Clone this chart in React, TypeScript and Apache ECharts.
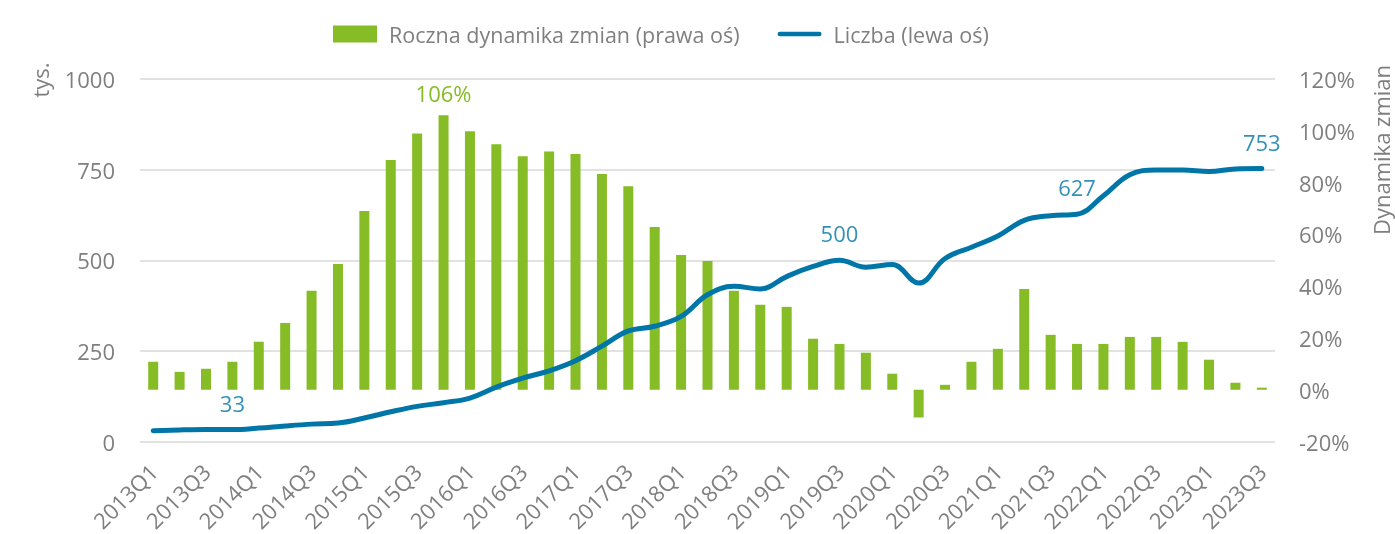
import React, { useEffect, useRef } from "react";
import * as echarts from "echarts";

const categories: string[] = [];
for (let y = 2013; y <= 2023; y++) {
  for (let q = 1; q <= 4; q++) {
    if (y === 2023 && q > 3) break;
    categories.push(`${y}Q${q}`);
  }
}

const growthPct = [
  10.8, 6.9, 8.1, 10.8, 18.5, 25.8, 38.2, 48.6, 69, 88.7, 99, 106, 99.8, 94.8, 90.2, 92,
  91, 83.3, 78.6, 62.8, 52, 49.7, 38.2, 32.8, 32, 19.7, 17.7, 14.3, 6.2, -10.7, 1.9,
  10.8, 15.8, 38.9, 21.2, 17.7, 17.7, 20.4, 20.4, 18.5, 11.6, 2.7, 0.8,
];

const countK = [
  30, 32, 33, 33, 37, 43, 48, 51, 65, 82, 97, 107, 120, 150, 175, 195,
  223, 263, 305, 318, 345, 405, 428, 421, 455, 483, 500, 481, 488, 437, 505,
  536, 567, 610, 623, 627, 678, 736, 749, 749, 745, 752, 753,
];

const barLabelIdx = [11];
const lineLabelIdx = [3, 26, 35, 42];

const leftTicks = { min: 0, max: 1000, interval: 250 };
const rightTicks = { min: -20, max: 120, interval: 20 };

const GREEN = "#86BC25";
const BLUE = "#0076A8";
const GRAY = "#7f7f7f";
const FONT = "Open Sans";
const FS = 22;

export default function App() {
  const ref = useRef<HTMLDivElement>(null);
  useEffect(() => {
    if (!ref.current) return;
    const chart = echarts.init(ref.current, undefined, { renderer: "svg" });
    chart.setOption({
      animation: false,
      textStyle: { fontFamily: FONT },
      legend: {
        top: 18,
        left: 328,
        itemWidth: 44,
        itemHeight: 17,
        itemGap: 38,
        textStyle: { fontSize: 21.5, color: GRAY, fontFamily: FONT, padding: [0, 0, 0, 7] },
        data: [
          { name: "Roczna dynamika zmian (prawa oś)", icon: "rect" },
          {
            name: "Liczba (lewa oś)",
            icon: "path://M2.5 0H46.5A2.5 2.5 0 0 1 46.5 5H2.5A2.5 2.5 0 0 1 2.5 0Z",
          },
        ],
      },
      grid: { left: 140, right: 120, top: 79, bottom: 92, containLabel: false },
      xAxis: {
        type: "category",
        data: categories,
        boundaryGap: true,
        axisLine: { show: false },
        axisTick: { show: false },
        axisLabel: {
          interval: 1,
          rotate: 45,
          fontSize: FS,
          color: GRAY,
          fontFamily: FONT,
          margin: 26,
        },
      },
      yAxis: [
        {
          type: "value",
          ...leftTicks,
          position: "left",
          axisLine: { show: false },
          axisTick: { show: false },
          axisLabel: {
            fontSize: FS,
            color: GRAY,
            fontFamily: FONT,
            margin: 25,
            formatter: (v: number) => `${v}`,
          },
          splitLine: { lineStyle: { color: "#d9d9d9", width: 1.5 } },
        },
        {
          type: "value",
          ...rightTicks,
          position: "right",
          axisLine: { show: false },
          axisTick: { show: false },
          axisLabel: {
            fontSize: FS,
            color: GRAY,
            fontFamily: FONT,
            margin: 24,
            formatter: (v: number) => `${v}%`,
          },
          splitLine: { show: false },
        },
      ],
      graphic: [
        {
          type: "text",
          x: 40,
          y: 80,
          rotation: Math.PI / 2,
          style: {
            text: "tys.",
            fontSize: FS,
            fontFamily: FONT,
            fill: GRAY,
            align: "center",
            verticalAlign: "middle",
          },
        },
        {
          type: "text",
          x: 1381,
          y: 150,
          rotation: Math.PI / 2,
          style: {
            text: "Dynamika zmian",
            fontSize: FS,
            fontFamily: FONT,
            fill: GRAY,
            align: "center",
            verticalAlign: "middle",
          },
        },
      ],
      series: [
        {
          name: "Roczna dynamika zmian (prawa oś)",
          type: "bar",
          yAxisIndex: 1,
          barWidth: 10,
          itemStyle: { color: GREEN },
          data: growthPct.map((v, i) =>
            barLabelIdx.includes(i)
              ? {
                  value: v,
                  label: {
                    show: true,
                    position: "top",
                    distance: 11,
                    formatter: `${Math.round(v)}%`,
                    color: GREEN,
                    fontSize: FS,
                    fontFamily: FONT,
                  },
                }
              : v
          ),
        },
        {
          name: "Liczba (lewa oś)",
          type: "line",
          yAxisIndex: 0,
          smooth: 0.4,
          symbol: "none",
          lineStyle: { color: BLUE, width: 5, cap: "round" },
          itemStyle: { color: BLUE },
          data: countK,
        },
        {
          name: "labels",
          type: "scatter",
          yAxisIndex: 0,
          symbolSize: 0,
          silent: true,
          label: {
            show: true,
            position: "top",
            distance: 16,
            color: BLUE,
            fontSize: FS,
            fontFamily: FONT,
            formatter: (p: any) => `${p.value[1]}`,
          },
          data: lineLabelIdx.map((i) => [i, countK[i]]),
        },
      ],
    });
    return () => chart.dispose();
  }, []);
  return (
    <div
      ref={ref}
      style={{ position: "fixed", left: 0, top: 0, width: 1395, height: 534 }}
    />
  );
}
